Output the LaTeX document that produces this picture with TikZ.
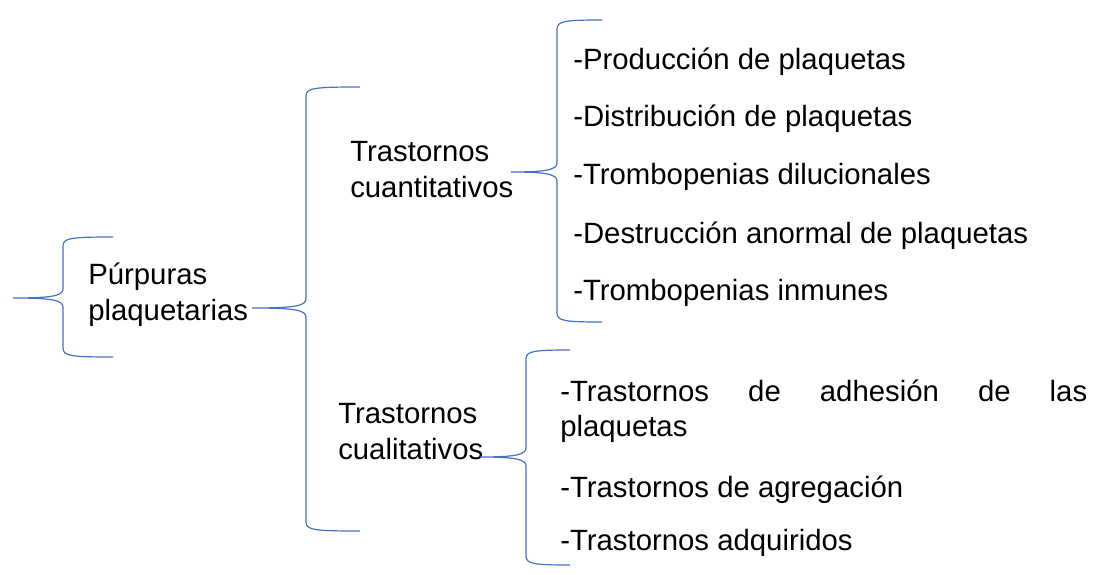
\documentclass[tikz,border=0pt]{standalone}
\usepackage{fontspec}
\setmainfont{Liberation Sans}
\definecolor{bracecol}{RGB}{68,114,196}
% #1 vertical x, #2 arm end x, #3 top y, #4 tip x, #5 tip y, #6 bottom y
\newcommand\mybrace[6]{%
  \draw[bracepath] (#2,#3) .. controls (#1+8,#3) and (#1,#3+1) .. (#1,#3+9)
    -- (#1,#5-9) .. controls (#1,#5-2) and (#1-12,#5) .. (#4,#5)
    .. controls (#1-12,#5) and (#1,#5+2) .. (#1,#5+9)
    -- (#1,#6-9) .. controls (#1,#6-1) and (#1+8,#6) .. (#2,#6);}
\begin{document}
\begin{tikzpicture}[x=0.75pt,y=-0.75pt,
  lbl/.style={anchor=base west,inner sep=0pt,font=\fontsize{22}{26.5}\selectfont,align=left},
  bracepath/.style={draw=bracecol,line width=0.9pt}]
\useasboundingbox (0,0) rectangle (1098,574);
% Texts
\node[lbl] (root) at (88,320) {Púrpuras\\plaquetarias};
\node[lbl] (cuant) at (350,197) {Trastornos\\cuantitativos};
\node[lbl] (cual) at (338,459) {Trastornos\\cualitativos};
\node[lbl] (q1) at (573,70) {-Producción de plaquetas};
\node[lbl] (q2) at (573,127) {-Distribución de plaquetas};
\node[lbl] (q3) at (573,185) {-Trombopenias dilucionales};
\node[lbl] (q4) at (573,243) {-Destrucción anormal de plaquetas};
\node[lbl] (q5) at (573,300) {-Trombopenias inmunes};
\node[lbl,text width=527*0.75pt] (c1) at (560,401) {-Trastornos\hfill de\hfill adhesión\hfill de\hfill las\\plaquetas};
\node[lbl] (c2) at (560,497) {-Trastornos de agregación};
\node[lbl] (c3) at (560,550) {-Trastornos adquiridos};
% Braces
\mybrace{63}{113}{237}{13}{298}{357}
\mybrace{306}{360}{87}{252}{308}{531}
\mybrace{557}{602}{20}{511}{172}{322}
\mybrace{526}{570}{350}{480}{457}{565}
\end{tikzpicture}
\end{document}
